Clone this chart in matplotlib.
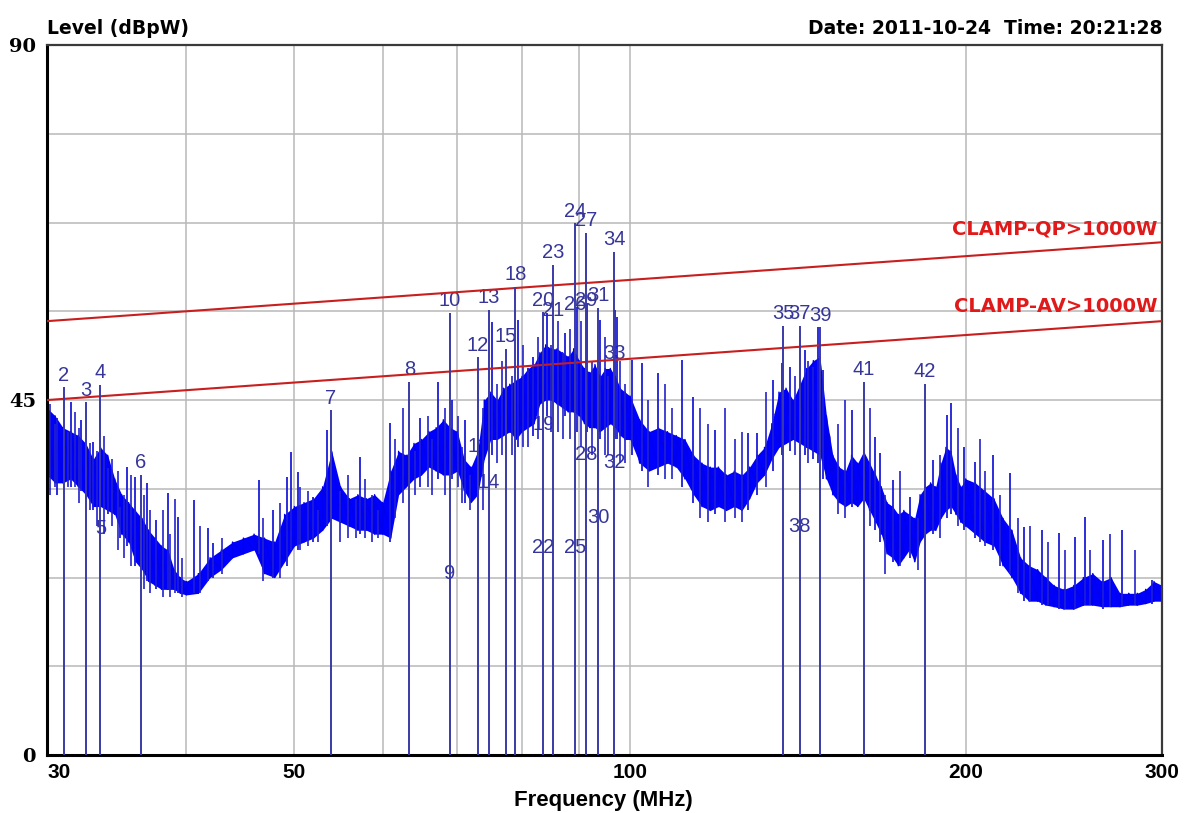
import matplotlib
matplotlib.use('Agg')
import matplotlib.pyplot as plt
from matplotlib.ticker import NullLocator, NullFormatter

band_freq = [30.0, 30.5, 31.0, 31.5, 32.0, 32.5, 33.0, 33.5, 34.0, 34.5, 35.0, 35.5, 36.0, 36.5,
             37.0, 37.5, 38.0, 38.5, 39.0, 39.5, 40.0, 41.0, 42.0, 43.0, 44.0, 45.0, 46.0, 47.0,
             48.0, 49.0, 50.0, 51.0, 52.0, 53.0, 54.0, 55.0, 56.0, 57.0, 58.0, 59.0, 60.0, 61.0,
             62.0, 63.0, 64.0, 65.0, 66.0, 67.0, 68.0, 69.0, 70.0, 71.0, 72.0, 73.0, 74.0, 75.0,
             76.0, 77.0, 78.0, 79.0, 80.0, 81.0, 82.0, 83.0, 84.0, 85.0, 86.0, 87.0, 88.0, 89.0,
             90.0, 91.0, 92.0, 93.0, 94.0, 95.0, 96.0, 97.0, 98.0, 99.0, 100.0, 102.0, 104.0,
             106.0, 108.0, 110.0, 112.0, 114.0, 116.0, 118.0, 120.0, 122.0, 124.0, 126.0, 128.0,
             130.0, 132.0, 134.0, 136.0, 138.0, 140.0, 142.0, 144.0, 146.0, 148.0, 150.0, 152.0,
             154.0, 156.0, 158.0, 160.0, 162.0, 164.0, 166.0, 168.0, 170.0, 172.0, 174.0, 176.0,
             178.0, 180.0, 182.0, 184.0, 186.0, 188.0, 190.0, 192.0, 194.0, 196.0, 198.0, 200.0,
             204.0, 208.0, 212.0, 216.0, 220.0, 224.0, 228.0, 232.0, 236.0, 240.0, 245.0, 250.0,
             255.0, 260.0, 265.0, 270.0, 275.0, 280.0, 285.0, 290.0, 295.0, 300.0]
band_lo = [35.5, 34.5, 34.5, 35.0, 34.0, 33.0, 31.5, 31.5, 31.0, 30.5, 28.0, 27.0, 24.5, 23.5,
           22.0, 21.5, 21.0, 21.0, 21.0, 20.5, 20.3, 20.5, 22.5, 23.5, 25.0, 25.5, 26.0, 23.0,
           22.5, 24.5, 26.5, 27.0, 27.5, 28.5, 30.0, 29.5, 29.0, 28.5, 28.5, 28.0, 28.0, 27.5,
           33.0, 34.0, 35.0, 35.5, 36.5, 36.0, 35.5, 35.5, 36.0, 33.5, 32.0, 33.0, 37.5, 40.0,
           40.0, 40.5, 41.0, 40.0, 41.0, 41.5, 42.0, 44.5, 45.0, 45.0, 44.5, 44.0, 43.5, 43.5,
           43.0, 42.0, 41.5, 41.5, 41.0, 41.5, 42.0, 41.5, 40.5, 40.0, 40.0, 37.0, 36.0,
           36.5, 37.0, 36.5, 35.0, 33.0, 31.5, 31.0, 31.5, 31.0, 31.5, 31.0, 32.5,
           34.5, 35.5, 37.5, 39.0, 39.5, 40.0, 39.5, 39.0, 38.5, 38.0, 35.0, 33.0,
           32.0, 31.5, 32.0, 31.5, 32.5, 31.0, 29.5, 28.0, 25.5, 25.0, 24.0, 25.0,
           26.0, 24.5, 27.0, 28.0, 28.5, 28.5, 30.0, 31.0, 31.5, 30.5, 29.5, 29.0,
           28.0, 27.0, 26.5, 24.0, 22.5, 20.5, 19.5, 19.5, 19.0, 18.8, 18.5, 18.5,
           19.0, 19.0, 18.8, 18.8, 18.8, 19.0, 19.0, 19.2, 19.5, 19.5]
band_hi = [44.0, 43.0, 41.5, 41.0, 40.5, 39.5, 37.5, 39.0, 38.0, 35.0, 33.0, 32.0, 31.0, 30.0,
           28.5, 27.5, 26.5, 26.0, 23.5, 22.5, 22.0, 23.0, 25.0, 26.0, 27.0, 27.5, 28.0, 27.5,
           27.0, 30.5, 31.5, 32.0, 32.5, 34.0, 38.5, 34.0, 32.5, 33.0, 32.5, 33.0, 32.0, 36.0,
           38.5, 38.0, 39.5, 40.0, 41.0, 41.5, 42.5, 41.5, 41.0, 37.5, 36.5, 38.5, 45.0, 46.0,
           45.0, 46.5, 47.0, 47.5, 48.0, 49.0, 49.5, 51.0, 52.0, 51.5, 51.5, 51.0, 50.5, 51.5,
           50.0, 49.0, 48.5, 49.5, 48.0, 49.0, 49.0, 48.0, 46.5, 46.0, 45.5, 42.5, 41.0,
           41.5, 41.0, 40.5, 40.0, 38.0, 37.0, 36.5, 36.5, 35.5, 36.0, 35.5, 36.5,
           38.0, 39.0, 42.0, 46.0, 46.5, 45.0, 47.0, 49.0, 50.0, 50.5, 43.0, 38.0,
           36.5, 36.0, 38.0, 37.0, 38.5, 37.0, 35.5, 34.0, 32.0, 31.5, 30.5, 31.0,
           30.5, 30.0, 33.0, 34.0, 34.5, 34.0, 37.0, 39.0, 38.5, 35.5, 34.0, 35.0,
           34.5, 33.5, 32.5, 30.0, 28.5, 25.0, 24.0, 23.5, 22.5, 21.5, 21.0, 21.5,
           22.5, 23.0, 22.0, 22.5, 20.5, 20.5, 20.5, 21.0, 22.0, 21.5]

# tall narrow spikes standing out of the band: frequency, top, bottom (dBpW)
spike_freq = [30.6, 31.5, 32.2, 33.0, 34.0, 34.9, 35.4, 36.0, 36.9, 37.6, 38.5, 39.3, 40.6,
              41.8, 42.3, 46.5, 47.8, 49.2, 49.7, 50.4, 52.0, 53.5, 57.3, 60.9, 64.8, 67.3,
              69.2, 71.1, 75.2, 79.4, 81.9, 84.3, 87.4, 89.6, 91.5, 94.0, 97.0, 97.4, 100.4,
              102.5, 106.0, 111.3, 113.9, 119.2, 127.6, 130.0, 134.4, 136.9, 139.2, 143.5,
              145.9, 147.5, 149.0, 158.2, 165.9, 167.6, 172.1, 178.3, 187.0, 192.5, 194.0,
              199.3, 203.9, 211.6, 219.2, 225.5, 234.1, 242.4, 250.7, 255.9, 265.6, 276.2, 293.9]
spike_top = [42.7, 44.7, 42.5, 39.7, 36.4, 31.4, 36.5, 35.2, 34.5, 29.8, 33.2, 30.2, 32.3,
             28.8, 26.9, 34.9, 31.1, 35.2, 38.4, 35.9, 32.7, 41.2, 37.8, 42.1, 42.7, 47.3,
             45.0, 42.5, 54.9, 55.1, 50.4, 56.0, 53.5, 56.8, 57.3, 55.1, 56.4, 55.5, 50.1,
             49.7, 48.4, 50.1, 45.4, 41.2, 40.8, 40.8, 47.5, 49.7, 49.2, 51.3,
             49.2, 54.2, 48.8, 43.7, 40.3, 38.3, 34.9, 32.7, 37.4, 43.1, 44.6,
             39.0, 37.1, 38.0, 35.7, 28.9, 28.5, 28.1, 27.6, 30.2, 27.2, 28.5, 22.2]
spike_bot = [33.0, 34.0, 33.5, 31.0, 30.5, 27.5, 26.5, 24.0, 22.0, 21.0, 21.0, 20.5, 20.5,
             22.0, 22.5, 25.5, 22.5, 24.0, 26.0, 26.0, 27.0, 29.0, 28.0, 27.0, 34.0, 35.0,
             35.0, 32.0, 38.0, 39.0, 40.5, 43.0, 43.0, 41.0, 41.0, 40.0, 40.0, 40.0, 38.0,
             36.0, 35.5, 34.0, 32.0, 30.5, 31.0, 33.0, 36.0, 38.0, 38.5, 38.0,
             37.5, 37.0, 35.0, 31.5, 28.5, 27.0, 24.5, 25.0, 28.0, 30.0, 30.5,
             28.5, 27.5, 26.0, 23.0, 19.5, 19.0, 18.5, 18.5, 19.0, 18.5, 18.8, 19.2]

# smaller spikes that give the trace its ragged look
fine_freq = [30.19, 30.5, 31.33, 31.79, 32.05, 32.78, 33.27, 33.75, 34.31, 34.74, 35.17, 35.69,
             36.65, 37.12, 38.12, 38.68, 39.08, 39.65, 41.15, 43.07, 46.86, 48.55, 50.59, 51.44,
             52.51, 54.95, 55.86, 56.79, 57.86, 58.71, 59.44, 61.56, 62.59, 64.15, 65.9, 66.44,
             68.26, 70.12, 70.7, 71.88, 73.83, 76.0, 76.79, 78.39, 80.19, 81.02, 82.72, 84.97,
             86.21, 87.1, 88.37, 90.4, 92.47, 94.97, 95.56, 97.95, 98.97, 103.8, 107.5, 109.07,
             115.56, 117.48, 121.68, 124.22, 126.03, 132.43, 140.6, 144.43, 153.66, 155.9, 164.14,
             169.3, 174.6, 181.2, 189.7, 196.8, 206.0, 208.1, 214.7, 222.8, 228.4, 237.0, 245.5,
             258.6, 269.5, 283.7]
fine_top = [44.5, 42.0, 41.0, 43.5, 41.5, 39.5, 38.5, 40.5, 37.5, 36.0, 33.0, 35.5,
            33.0, 31.0, 31.0, 28.0, 32.5, 25.0, 29.0, 27.5, 30.0, 32.0, 34.0, 33.5,
            31.0, 33.5, 35.5, 32.5, 35.0, 33.0, 31.0, 40.0, 44.0, 38.5, 43.0, 40.0,
            44.0, 43.0, 39.0, 35.5, 44.0, 47.0, 50.0, 48.0, 52.0, 49.0, 53.0, 52.0,
            55.0, 51.0, 54.0, 55.0, 50.0, 53.0, 48.0, 50.0, 47.0, 45.0, 47.0, 44.0,
            44.0, 42.0, 44.0, 40.0, 41.0, 46.0, 48.0, 50.0, 42.0, 45.0, 44.0,
            33.0, 36.0, 30.0, 38.0, 41.5, 40.0, 36.0, 33.0, 30.0, 29.0, 27.0, 26.0,
            26.0, 28.0, 26.0]
fine_bot = [33.0, 34.0, 34.0, 34.0, 32.0, 31.0, 29.0, 28.0, 29.0, 26.0, 25.0, 24.0,
            21.0, 20.5, 20.0, 20.0, 20.5, 20.0, 20.5, 23.0, 22.0, 22.5, 26.0, 26.5,
            27.0, 27.0, 27.5, 27.5, 27.5, 27.0, 27.5, 30.0, 32.0, 33.0, 34.0, 33.0,
            33.0, 34.0, 32.0, 31.0, 31.0, 37.0, 38.0, 38.0, 39.0, 39.0, 40.0, 41.0,
            41.0, 40.0, 40.0, 39.0, 38.0, 38.0, 38.0, 37.0, 37.0, 34.0, 35.0, 35.0,
            30.0, 29.5, 29.5, 30.0, 29.5, 34.0, 38.0, 37.0, 30.5, 30.0, 29.0,
            23.0, 24.0, 23.5, 27.5, 29.0, 27.0, 26.5, 24.0, 20.5, 19.5, 19.0, 18.5,
            19.0, 18.8, 19.0]

# marker table
marker_num = list(range(1, 43))
marker_freq = [31.07, 31.07, 32.5, 33.5, 33.5, 36.4, 53.9, 63.4, 68.9, 68.9, 73.0, 73.0, 74.7,
               74.7, 77.4, 77.4, 78.9, 78.9, 83.6, 83.6, 85.3, 83.6, 85.3, 89.3, 89.3, 89.3,
               91.3, 91.3, 91.3, 93.6, 93.6, 96.8, 96.8, 96.8, 137.2, 137.2, 142.0, 142.0,
               148.1, 148.1, 162.1, 183.9]
marker_level = [37.0, 46.6, 44.7, 46.9, 27.2, 35.5, 43.7, 47.3, 21.4, 56.0, 37.5, 50.4, 56.4,
                33.0, 51.5, 40.0, 44.0, 59.3, 40.4, 56.1, 54.8, 24.7, 62.1, 67.4, 24.7, 55.6,
                66.2, 36.6, 56.1, 28.5, 56.7, 35.5, 49.3, 63.8, 54.4, 40.8, 54.4, 27.4,
                54.2, 38.3, 47.3, 47.0]

# clamp limit lines
limit_freq = [30, 300]
qp_limit = [55, 65]
av_limit = [45, 55]

x_ticks = [30, 40, 50, 60, 70, 80, 90, 100, 200, 300]
x_labels = ['30', '', '50', '', '', '', '', '100', '200', '300']
y_ticks = [0, 11.25, 22.5, 33.75, 45, 56.25, 67.5, 78.75, 90]
y_labels = ['0', '', '', '', '45', '', '', '', '90']

fig = plt.figure(figsize=(11.91, 8.13), dpi=100)
ax = fig.add_axes([0.0395, 0.0713, 0.9362, 0.8733])
ax.set_xscale('log')
ax.set_xlim(30, 300)
ax.set_ylim(0, 90)

ax.xaxis.set_minor_locator(NullLocator())
ax.xaxis.set_minor_formatter(NullFormatter())
ax.set_xticks(x_ticks, x_labels)
ax.set_yticks(y_ticks, y_labels)
ax.tick_params(length=0)
ax.tick_params(axis='x', pad=6)
ax.tick_params(axis='y', pad=8)
for t in ax.get_xticklabels():
    t.set_fontfamily(['Liberation Sans', 'DejaVu Sans'])
    t.set_fontweight('bold')
    t.set_fontsize(15)
for t in ax.get_yticklabels():
    t.set_fontfamily('DejaVu Serif')
    t.set_fontweight('bold')
    t.set_fontsize(14)
ax.get_xticklabels()[0].set_horizontalalignment('left')

ax.grid(True, color='#b8b8b8', lw=1.1, zorder=0)
ax.set_axisbelow(True)
for side in ['left', 'bottom']:
    ax.spines[side].set_linewidth(2.2)
    ax.spines[side].set_color('black')
for side in ['top', 'right']:
    ax.spines[side].set_linewidth(1.6)
    ax.spines[side].set_color('#3a3a3a')

# spectrum trace
ax.fill_between(band_freq, band_lo, band_hi, color='#0000ff', lw=0, zorder=2)
zx, zy = [], []
for f, lo, hi in zip(band_freq, band_lo, band_hi):
    zx += [f, f]
    zy += [lo, hi]
ax.plot(zx, zy, color='#0000ee', lw=1.0, zorder=2)
ax.vlines(spike_freq, spike_bot, spike_top, color='#1c1cd8', lw=1.3, zorder=2)
ax.vlines(fine_freq, fine_bot, fine_top, color='#2222cc', lw=1.2, zorder=2)

# limits
ax.plot(limit_freq, qp_limit, color='#c81e1e', lw=1.5, zorder=3)
ax.plot(limit_freq, av_limit, color='#c81e1e', lw=1.5, zorder=3)
ax.text(297, 66.7, 'CLAMP-QP>1000W', color='#e01a1a', fontsize=14, fontweight='bold',
        ha='right', va='center', zorder=5)
ax.text(297, 56.9, 'CLAMP-AV>1000W', color='#e01a1a', fontsize=14, fontweight='bold',
        ha='right', va='center', zorder=5)

# markers: one line per frequency, up to the highest reading there
tops = {}
for f, lv in zip(marker_freq, marker_level):
    tops[f] = max(lv, tops.get(f, 0))
ax.vlines(list(tops.keys()), 0, list(tops.values()), color='#3a3aa8', lw=1.4, zorder=4)
# labels sit under the trace, as on the analyser print-out
for n, f, lv in zip(marker_num, marker_freq, marker_level):
    ax.annotate(str(n), (f, lv), xytext=(0, 2), textcoords='offset points', ha='center',
                va='bottom', color='#36369a', fontsize=14.5, family='Liberation Sans',
                zorder=1.5)

fig.text(47 / 1191, 1 - 28 / 813, 'Level (dBpW)', fontsize=13.5, fontweight='bold',
         ha='left', va='center')
fig.text(1163 / 1191, 1 - 28 / 813, 'Date: 2011-10-24  Time: 20:21:28', fontsize=13.5,
         fontweight='bold', ha='right', va='center')
fig.text(603 / 1191, 1 - 800 / 813, 'Frequency (MHz)', fontsize=16, fontweight='bold',
         family=['Liberation Sans', 'DejaVu Sans'], ha='center', va='center')

fig.savefig('out.png', dpi=100)
